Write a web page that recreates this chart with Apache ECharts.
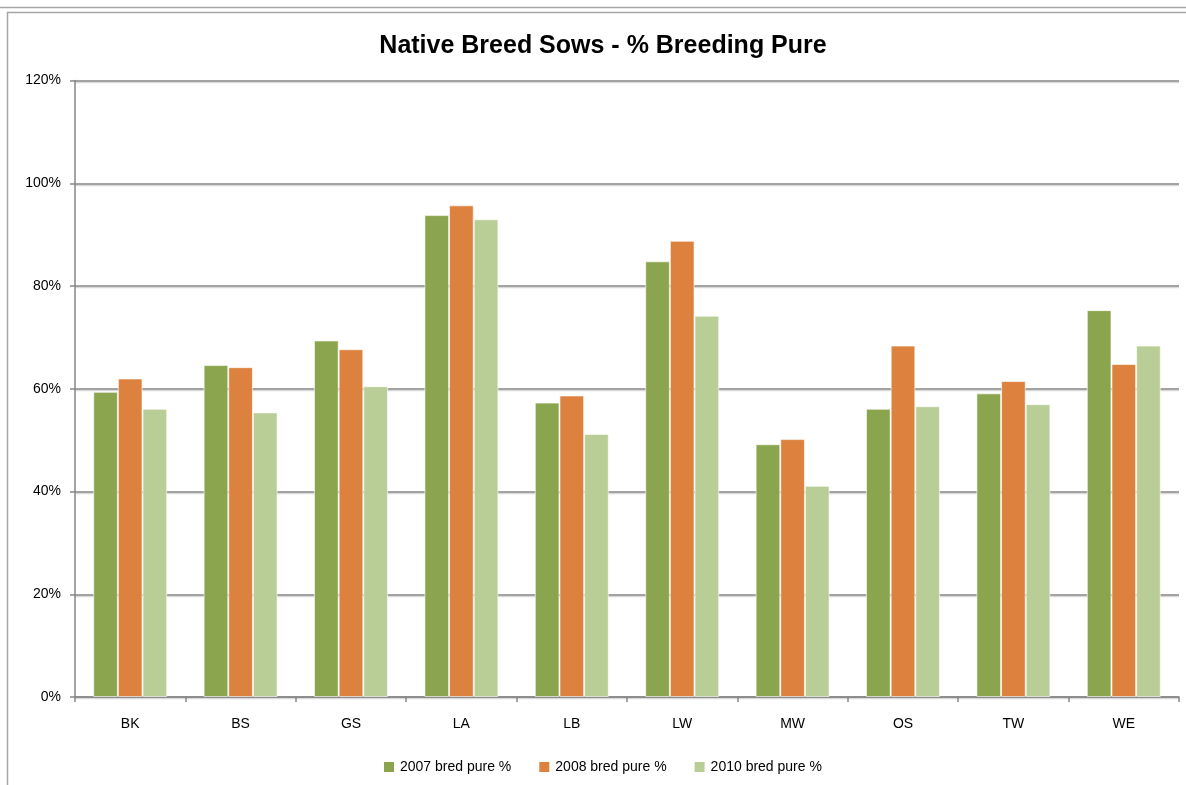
<!DOCTYPE html>
<html><head><meta charset="utf-8">
<script src="https://cdn.jsdelivr.net/npm/echarts@6/dist/echarts.min.js"></script>
<style>html,body{margin:0;padding:0;background:#fff}#c{width:1186px;height:785px}</style>
</head><body><div id="c"></div>
<script>
const categories = ['BK','BS','GS','LA','LB','LW','MW','OS','TW','WE'];
const seriesNames = ['2007 bred pure %','2008 bred pure %','2010 bred pure %'];
const s2007 = [59.4, 64.6, 69.4, 93.8, 57.3, 84.8, 49.2, 56.1, 59.1, 75.3];
const s2008 = [62.0, 64.2, 67.7, 95.7, 58.7, 88.8, 50.2, 68.4, 61.5, 64.8];
const s2010 = [56.1, 55.4, 60.5, 93.0, 51.2, 74.2, 41.1, 56.6, 57.0, 68.4];
const yTicks = [0, 20, 40, 60, 80, 100, 120];

const colors = ['#8ba54e', '#dc823e', '#b9ce96'];
const FONT = 'Liberation Sans';
const chart = echarts.init(document.getElementById('c'), null, {renderer: 'canvas'});
const mk = (name, data, i) => ({
  name, type: 'bar', data,
  barGap: '0%', barCategoryGap: '33%',
  itemStyle: {color: colors[i], borderColor: 'rgba(255,255,255,0.6)', borderWidth: 1},
  emphasis: {disabled: true}
});
chart.setOption({
  animation: false,
  textStyle: {fontFamily: FONT},
  color: colors,
  title: {
    text: 'Native Breed Sows - % Breeding Pure',
    left: 598, textAlign: 'center', top: 29,
    textStyle: {fontFamily: FONT, fontSize: 25, fontWeight: 'bold', color: '#000'}
  },
  graphic: [
    {type: 'line', shape: {x1: 0, y1: 7.5, x2: 1186, y2: 7.5}, style: {stroke: '#a6a6a6', lineWidth: 1.5}, silent: true},
    {type: 'rect', shape: {x: 7.5, y: 12.5, width: 1200, height: 800}, style: {fill: 'none', stroke: '#a6a6a6', lineWidth: 1.5}, silent: true}
  ],
  legend: {
    data: seriesNames, left: 379, top: 755,
    itemWidth: 10, itemHeight: 10, itemGap: 28, icon: 'rect',
    itemStyle: {borderWidth: 0},
    textStyle: {fontFamily: FONT, fontSize: 14, color: '#000', padding: [0, 0, 0, 1]}
  },
  grid: {left: 75, right: 7, top: 80.5, bottom: 88, containLabel: false},
  xAxis: {
    type: 'category', data: categories,
    axisLine: {lineStyle: {color: '#868686', width: 1.5}},
    axisTick: {show: true, alignWithLabel: false, length: 5, lineStyle: {color: '#868686', width: 1.5}},
    axisLabel: {fontFamily: FONT, fontSize: 14, color: '#000', margin: 20}
  },
  yAxis: {
    type: 'value', min: yTicks[0], max: yTicks[yTicks.length - 1], interval: 20,
    axisLine: {show: true, lineStyle: {color: '#868686', width: 1.5}},
    axisTick: {show: true, length: 5, lineStyle: {color: '#868686', width: 1.5}},
    axisLabel: {fontFamily: FONT, fontSize: 14, color: '#000', margin: 14, formatter: '{value}%'},
    splitLine: {show: true, lineStyle: {color: '#868686', width: 1.5, shadowColor: 'rgba(0,0,0,0.15)', shadowOffsetY: 1.5, shadowBlur: 0}}
  },
  series: [mk(seriesNames[0], s2007, 0), mk(seriesNames[1], s2008, 1), mk(seriesNames[2], s2010, 2)]
});
</script></body></html>
